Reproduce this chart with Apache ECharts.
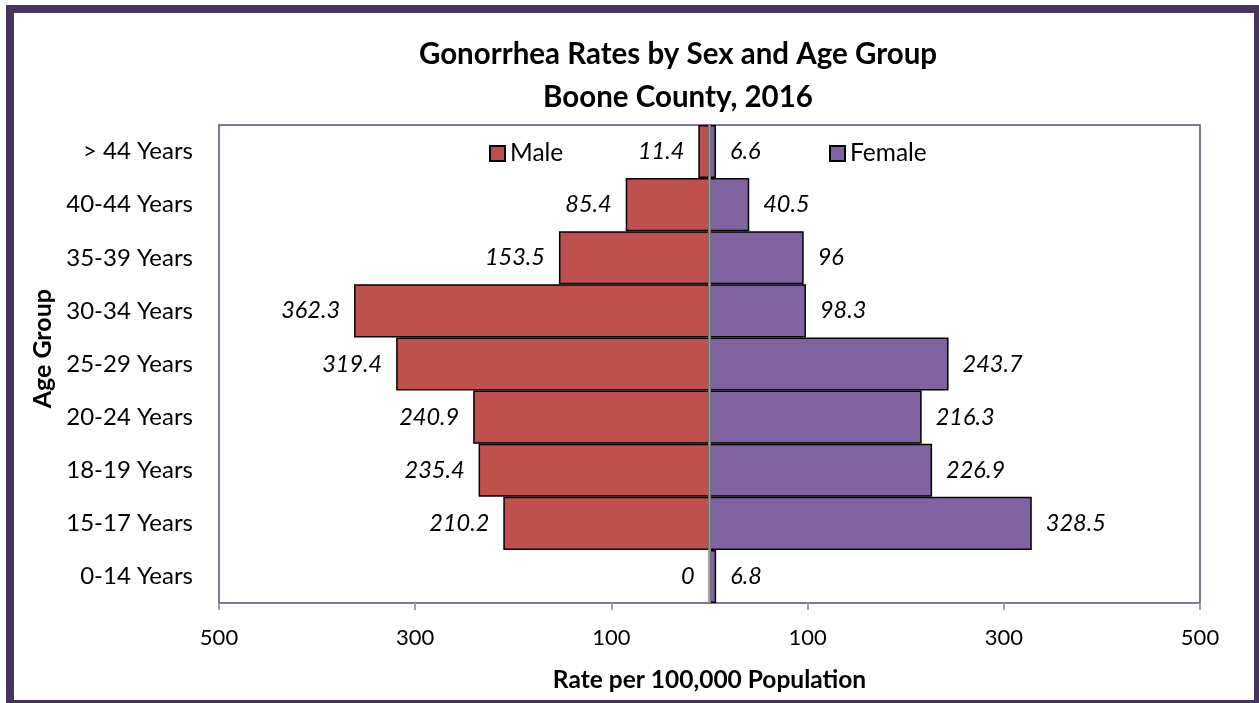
<!DOCTYPE html>
<html>
<head>
<meta charset="utf-8">
<script src="https://cdn.jsdelivr.net/npm/echarts@6/dist/echarts.min.js"></script>
<style>
  html, body { margin: 0; padding: 0; background: #fff; }
  #chart { width: 1259px; height: 703px; }
</style>
</head>
<body>
<div id="chart"></div>
<script>
  // 年龄组，从下往上
  var ageGroups = ['0-14 Years', '15-17 Years', '18-19 Years', '20-24 Years', '25-29 Years',
                   '30-34 Years', '35-39 Years', '40-44 Years', '> 44 Years'];
  var maleRates = [0, 210.2, 235.4, 240.9, 319.4, 362.3, 153.5, 85.4, 11.4];
  var femaleRates = [6.8, 328.5, 226.9, 216.3, 243.7, 98.3, 96, 40.5, 6.6];
  var xTicks = [-500, -300, -100, 100, 300, 500];

  var font = 'Lato, "Open Sans", sans-serif';
  var chart = echarts.init(document.getElementById('chart'));

  var option = {
    backgroundColor: '#fff',
    animation: false,
    textStyle: { fontFamily: font, color: '#000' },
    title: {
      text: 'Gonorrhea Rates by Sex and Age Group\nBoone County, 2016',
      left: 673, top: 28, textAlign: 'center',
      textStyle: { fontFamily: font, fontSize: 29.5, fontWeight: 'bold', lineHeight: 43, color: '#000' }
    },
    legend: [
      {
        data: ['Male'], left: 484, top: 136, itemWidth: 15, itemHeight: 15, itemGap: 6, icon: 'rect',
        textStyle: { fontFamily: font, fontSize: 24.5, color: '#000' }
      },
      {
        data: ['Female'], left: 824, top: 136, itemWidth: 15, itemHeight: 15, itemGap: 6, icon: 'rect',
        textStyle: { fontFamily: font, fontSize: 24.5, color: '#000' }
      }
    ],
    grid: {
      left: 219, right: 59, top: 125, bottom: 100,
      show: true, borderColor: '#5a4a78', borderWidth: 1.5, backgroundColor: '#fff'
    },
    xAxis: {
      type: 'value', min: -500, max: 500, interval: 100,
      name: 'Rate per 100,000 Population', nameLocation: 'middle', nameGap: 65,
      nameTextStyle: { fontFamily: font, fontSize: 24.5, fontWeight: 'bold', color: '#000' },
      axisLine: { lineStyle: { color: '#a0a0a0', width: 2 } },
      axisTick: { show: true, length: 7, customValues: xTicks, lineStyle: { color: '#a0a0a0', width: 2 } },
      axisLabel: {
        customValues: xTicks, margin: 24, fontSize: 22, color: '#000', fontFamily: font,
        formatter: function (v) { return Math.abs(v); }
      },
      splitLine: { show: false }
    },
    yAxis: {
      type: 'category', data: ageGroups,
      axisLine: { lineStyle: { color: '#5a4a78', width: 1.5 } },
      axisTick: { show: false },
      axisLabel: { margin: 26, fontSize: 24, color: '#000', fontFamily: font }
    },
    series: [
      {
        name: 'Male', type: 'bar',
        data: maleRates.map(function (v) { return -v; }),
        barGap: '-100%', barCategoryGap: '0%',
        itemStyle: { color: '#c0504d', borderColor: '#000', borderWidth: 1.5 },
        label: {
          show: true, position: 'left', distance: 14,
          fontFamily: font, fontSize: 23.5, fontStyle: 'italic', color: '#000',
          formatter: function (p) { return Math.abs(p.value); }
        }
      },
      {
        name: 'Female', type: 'bar',
        data: femaleRates,
        barGap: '-100%', barCategoryGap: '0%',
        itemStyle: { color: '#8064a2', borderColor: '#000', borderWidth: 1.5 },
        label: {
          show: true, position: 'right', distance: 14,
          fontFamily: font, fontSize: 23.5, fontStyle: 'italic', color: '#000'
        },
        markLine: {
          silent: true, symbol: 'none', z: 10,
          label: { show: false },
          lineStyle: { color: '#9a9a9a', width: 2.5, type: 'solid' },
          data: [{ xAxis: 0 }]
        }
      }
    ],
    graphic: [
      {
        // 纵轴标题
        type: 'text', left: 30, top: 289, rotation: Math.PI / 2,
        style: { text: 'Age Group', font: 'bold 25px ' + font, fill: '#000' }
      },
      {
        type: 'rect', z: 100, silent: true,
        shape: { x: 10, y: 9, width: 1248, height: 695 },
        style: { fill: 'none', stroke: '#46355a', lineWidth: 8 }
      }
    ]
  };

  chart.setOption(option);
</script>
</body>
</html>
